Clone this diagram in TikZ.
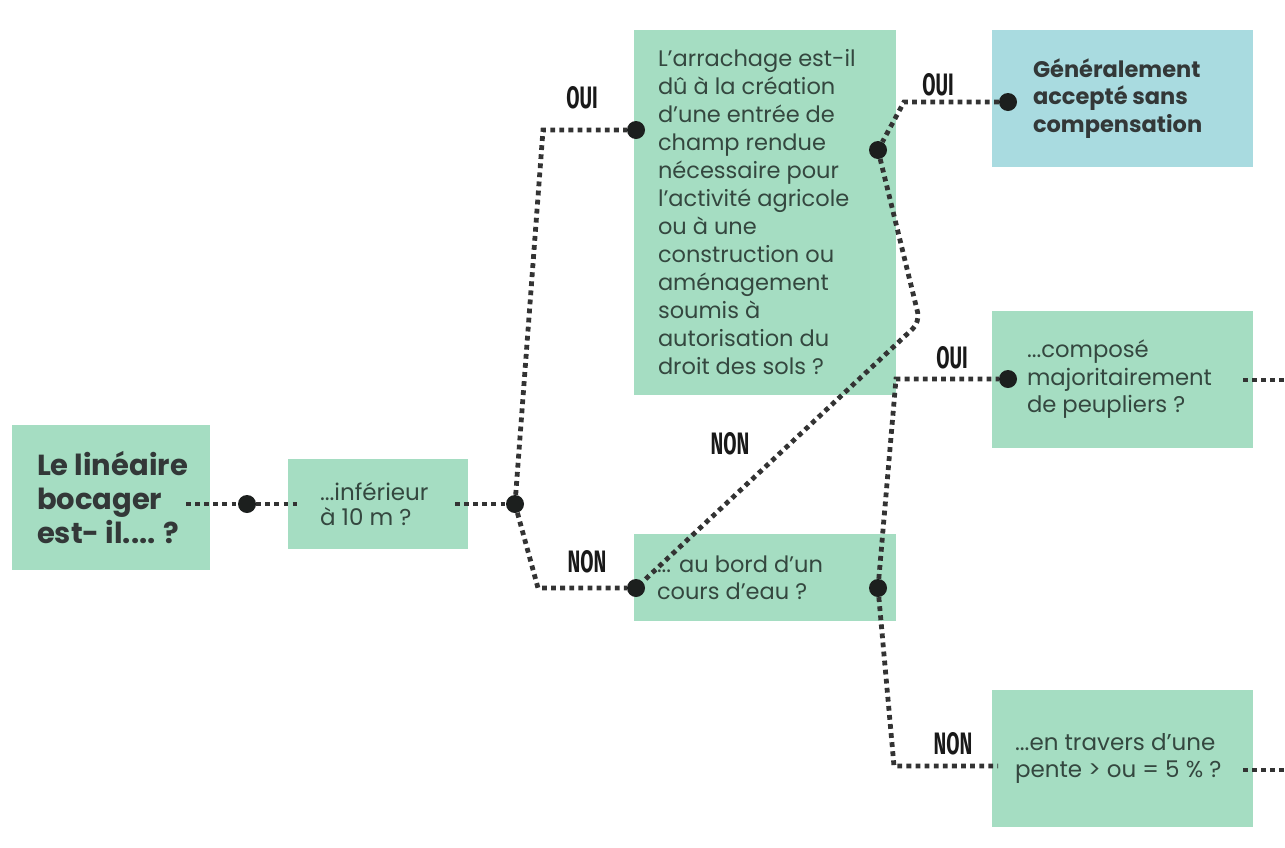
\documentclass[tikz,border=0pt]{standalone}
\usepackage{fontspec}
\setmainfont{Poppins}
\newfontfamily\labfont{Fira Sans}
\definecolor{mint}{HTML}{A5DDC2}
\definecolor{skyb}{HTML}{A9DBE0}
\definecolor{txtc}{HTML}{34473F}
\definecolor{boldc}{HTML}{333838}
\definecolor{linec}{HTML}{333333}
\definecolor{dotc}{HTML}{1C1F1E}
\newcommand{\cond}[1]{\scalebox{0.62}[1]{#1}}
\begin{document}
\begin{tikzpicture}[x=1pt,y=-1pt,
  box/.style={fill=mint, inner sep=0pt},
  bluebox/.style={fill=skyb, inner sep=0pt},
  txt/.style={anchor=west, align=left, inner sep=0pt, text=txtc, font=\fontsize{22.5}{28}\selectfont},
  btxt/.style={anchor=west, align=left, inner sep=0pt, text=boldc},
  dotn/.style={circle, fill=dotc, minimum size=18pt, inner sep=0pt},
  conn/.style={line width=4.8pt, dash pattern=on 4.8pt off 4.3pt, draw=linec},
  lab/.style={inner sep=0pt, text=black!90, font=\labfont\bfseries\fontsize{31}{31}\selectfont}]
\useasboundingbox (0,0) rectangle (1285,847);
% boxes
\node[box, minimum width=198pt, minimum height=145pt] (A) at (111,497.5) {};
\node[box, minimum width=180pt, minimum height=90pt] (B) at (378,504) {};
\node[box, minimum width=262pt, minimum height=365pt] (C) at (765,212.5) {};
\node[box, minimum width=262pt, minimum height=87pt] (D) at (765,577.5) {};
\node[bluebox, minimum width=261pt, minimum height=137pt] (E) at (1122.5,98.5) {};
\node[box, minimum width=261pt, minimum height=137pt] (F) at (1122.5,379.5) {};
\node[box, minimum width=261pt, minimum height=137pt] (G) at (1122.5,758.5) {};
% texts
\node[btxt, font=\bfseries\fontsize{29}{34}\selectfont] (tA) at ([xshift=25pt]A.west) {Le linéaire\\bocager\\est- il.... ?};
\node[txt, font=\fontsize{23}{25}\selectfont] (tB) at ([xshift=32pt]B.west) {...inférieur\\à 10 m ?};
\node[txt] (tC) at ([xshift=24pt]C.west) {L’arrachage est-il\\dû à la création\\d’une entrée de\\champ rendue\\nécessaire pour\\l’activité agricole\\ou à une\\construction ou\\aménagement\\soumis à\\autorisation du\\droit des sols ?};
\node[txt, font=\fontsize{22.5}{27}\selectfont] (tD) at ([xshift=23pt]D.west) {... au bord d’un\\cours d’eau ?};
\node[btxt, font=\bfseries\fontsize{22.5}{27.5}\selectfont] (tE) at ([xshift=41pt]E.west) {Généralement\\accepté sans\\compensation};
\node[txt, font=\fontsize{22.7}{27.5}\selectfont] (tF) at ([xshift=35pt]F.west) {...composé\\majoritairement\\de peupliers ?};
\node[txt, font=\fontsize{23}{27}\selectfont] (tG) at ([xshift=23pt]G.west) {...en travers d’une\\pente > ou = 5 \% ?};
% dots
\node[dotn] (d1) at (247,504) {};
\node[dotn] (d2) at (515,504) {};
\node[dotn] (d3) at (636,130) {};
\node[dotn] (d4) at (636,588) {};
\node[dotn] (d5) at (878,150) {};
\node[dotn] (d6) at (1008,102) {};
\node[dotn] (d7) at (878,588) {};
\node[dotn] (d8) at (1008,379) {};
% connector end points and corners
\coordinate (aout) at (186,504);
\coordinate (bin) at (300,504);
\coordinate (bout) at (455,504);
\coordinate (c1) at (543,130);
\coordinate (c2) at (538,588);
\coordinate (c3) at (904,102);
\coordinate (c4) at (920,322);
\coordinate (c5) at (896,379);
\coordinate (c6) at (894,766);
\coordinate (gin) at (998,766);
\coordinate (fout) at (1243,380);
\coordinate (fend) at (1285,380);
\coordinate (gout) at (1243,770);
\coordinate (gend) at (1285,770);
% connectors
\draw[conn] (aout) -- (d1) -- (bin);
\draw[conn] (bout) -- (d2);
\draw[conn] (d2) -- (c1) -- (d3);
\draw[conn] (d2) -- (c2) -- (d4);
\draw[conn] (d6) -- (c3) -- (d5);
\draw[conn, rounded corners=10pt] (d5) -- (c4) -- (d4);
\draw[conn] (d7) -- (c5) -- (d8);
\draw[conn] (d7) -- (c6) -- (gin);
\draw[conn] (fout) -- (fend);
\draw[conn] (gout) -- (gend);
% labels
\node[lab] (l1) at (582,98) {\cond{OUI}};
\node[lab] (l2) at (587,562) {\cond{NON}};
\node[lab] (l3) at (938,85) {\cond{OUI}};
\node[lab] (l4) at (730,444) {\cond{NON}};
\node[lab] (l5) at (952,358) {\cond{OUI}};
\node[lab] (l6) at (953,744) {\cond{NON}};
\end{tikzpicture}
\end{document}
